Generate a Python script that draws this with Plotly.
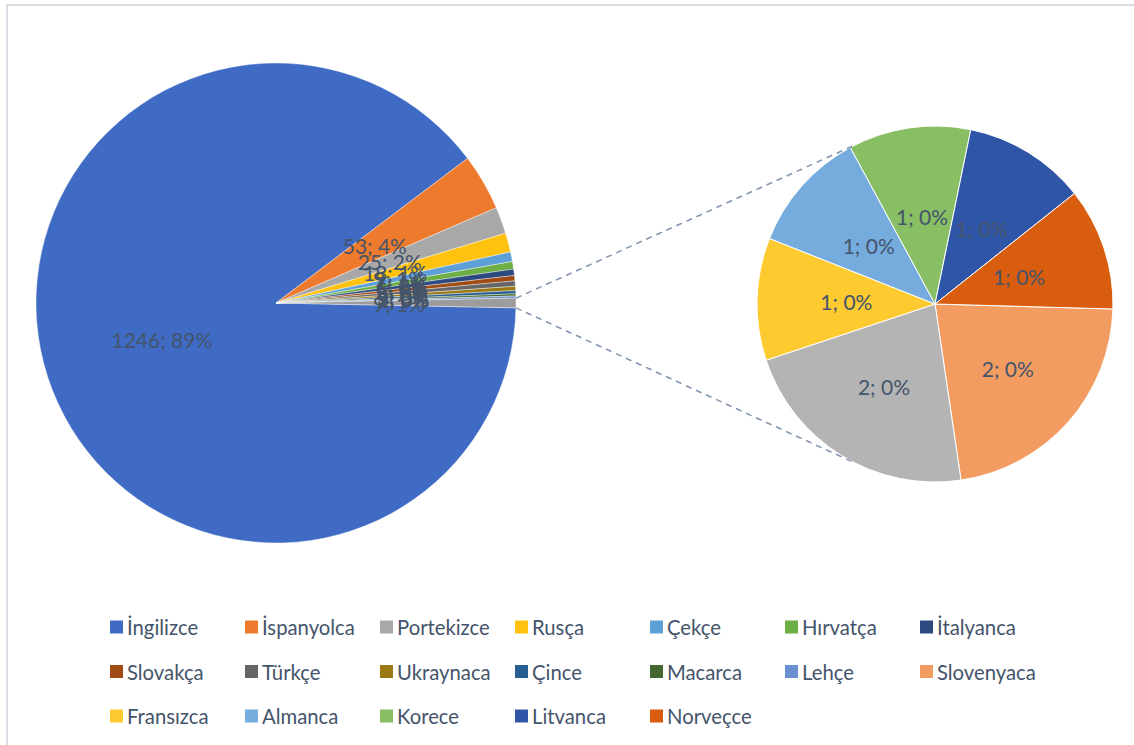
import math
import plotly.graph_objects as go

W, H = 1134, 745

# ---------------- data ----------------
main_labels = ["İngilizce", "İspanyolca", "Portekizce", "Rusça", "Çekçe", "Hırvatça",
               "İtalyanca", "Slovakça", "Türkçe", "Ukraynaca", "Çince", "Macarca", "Lehçe"]
main_values = [1246, 53, 25, 18, 9, 7, 6, 5, 5, 4, 3, 2, 2]
main_colors = ["#3F6BC5", "#EE7A2E", "#A8A8A8", "#FFC20E", "#5E9FD8", "#6DAE45",
               "#2A4A80", "#A04A14", "#666666", "#9C7A12", "#275F92", "#44682D", "#6A8FD2"]
other_label = "Diğer"
other_color = "#9C9C9C"

sub_labels = ["Slovenyaca", "(adsız)", "Fransızca", "Almanca", "Korece", "Litvanca", "Norveçce"]
sub_values = [2, 2, 1, 1, 1, 1, 1]
sub_colors = ["#F39C62", "#B4B4B4", "#FDCB30", "#76ABDD", "#88BE64", "#2F56A6", "#D85D0E"]
sub_in_legend = [True, False, True, True, True, True, True]

TEXT_COLOR = "#44546A"
FONT = "Lato"

# ---------------- derived ----------------
other_value = sum(sub_values)
grand_total = sum(main_values) + other_value

def lbl(v):
    return f"{v}; {round(100 * v / grand_total)}%"

p_labels = main_labels + [other_label]
p_values = main_values + [other_value]
p_colors = main_colors + [other_color]
big = max(p_values)
p_text_big = [lbl(v) if v == big else "" for v in p_values]
p_text_small = [lbl(v) if v != big else "" for v in p_values]
s_text_2 = [lbl(v) if v >= 2 else "" for v in sub_values]
s_text_1 = [lbl(v) if v < 2 else "" for v in sub_values]

other_half_deg = other_value / grand_total * 360 / 2
main_rot = 90 + other_half_deg
sub_rot = 91.6

# geometry (pixels)
mcx, mcy, mr = 276, 303, 240
scx, scy, sr = 935, 304, 178

def dom(cx, cy, r):
    return dict(x=[(cx - r) / W, (cx + r) / W], y=[1 - (cy + r) / H, 1 - (cy - r) / H])

tf = dict(family=FONT, size=21, color=TEXT_COLOR)
clear = "rgba(0,0,0,0)"

fig = go.Figure()
fig.add_trace(go.Pie(
    labels=p_labels, values=p_values, text=p_text_big, textinfo="text",
    sort=False, direction="clockwise", rotation=main_rot,
    marker=dict(colors=p_colors, line=dict(color="white", width=0.4)),
    textposition="inside", insidetextorientation="horizontal", textfont=tf,
    domain=dom(mcx, mcy, mr), showlegend=False, hoverinfo="label+value+percent",
))
fig.add_trace(go.Pie(
    labels=sub_labels, values=sub_values, text=[""] * len(sub_values), textinfo="text",
    sort=False, direction="clockwise", rotation=sub_rot,
    marker=dict(colors=sub_colors, line=dict(color="white", width=1)),
    textposition="inside", insidetextorientation="horizontal", textfont=tf,
    domain=dom(scx, scy, sr), showlegend=False, hoverinfo="label+value",
))
# label carriers (transparent) so that labels sit nearer the pie centres, as in the original
for labels, values, texts, cx, cy, r, rot in [
    (p_labels, p_values, p_text_small, mcx, mcy, 128, main_rot),
    (sub_labels, sub_values, s_text_2, scx, scy, 160, sub_rot),
    (sub_labels, sub_values, s_text_1, scx, scy, 119, sub_rot),
]:
    fig.add_trace(go.Pie(
        labels=labels, values=values, text=texts, textinfo="text",
        sort=False, direction="clockwise", rotation=rot,
        marker=dict(colors=[clear] * len(values), line=dict(width=0)),
        textposition="inside", insidetextorientation="horizontal", textfont=tf,
        domain=dom(cx, cy, r), showlegend=False, hoverinfo="skip",
    ))

shapes = []
# chart border
shapes.append(dict(type="rect", xref="paper", yref="paper",
                   x0=7 / W, x1=1.02, y0=-0.02, y1=1 - 5 / H,
                   line=dict(color="#D9DDE3", width=2), fillcolor=clear, layer="below"))
# connector lines
a = math.radians(other_half_deg)
b = math.radians(117)
for s in (1, -1):
    x0 = mcx + mr * math.cos(a)
    y0 = mcy - s * mr * math.sin(a)
    x1 = scx + sr * math.cos(b)
    y1 = scy - s * sr * math.sin(b)
    shapes.append(dict(type="line", xref="paper", yref="paper",
                       x0=x0 / W, y0=1 - y0 / H, x1=x1 / W, y1=1 - y1 / H,
                       line=dict(color="#8497B0", width=1.6, dash="6px,5px")))

# manual legend (the unnamed category has no legend entry in the original)
leg_labels = main_labels + [l for l, k in zip(sub_labels, sub_in_legend) if k]
leg_colors = main_colors + [c for c, k in zip(sub_colors, sub_in_legend) if k]
annotations = []
for i, (lab, col) in enumerate(zip(leg_labels, leg_colors)):
    c, r = i % 7, i // 7
    x = 110 + 135 * c
    y = 627 + 44.5 * r
    shapes.append(dict(type="rect", xref="paper", yref="paper",
                       x0=x / W, x1=(x + 13) / W, y0=1 - (y + 6.5) / H, y1=1 - (y - 6.5) / H,
                       line=dict(width=0), fillcolor=col))
    annotations.append(dict(xref="paper", yref="paper", x=(x + 15) / W, y=1 - y / H,
                            xanchor="left", yanchor="middle", text=lab, showarrow=False,
                            font=dict(family=FONT, size=20.3, color=TEXT_COLOR)))

fig.update_layout(
    width=W, height=H, margin=dict(l=0, r=0, t=0, b=0),
    paper_bgcolor="white", plot_bgcolor="white",
    uniformtext=dict(minsize=21, mode="show"),
    shapes=shapes, annotations=annotations,
)
fig.write_html("out.html", config={"displayModeBar": False},
               post_script="document.body.style.margin='0px';")
